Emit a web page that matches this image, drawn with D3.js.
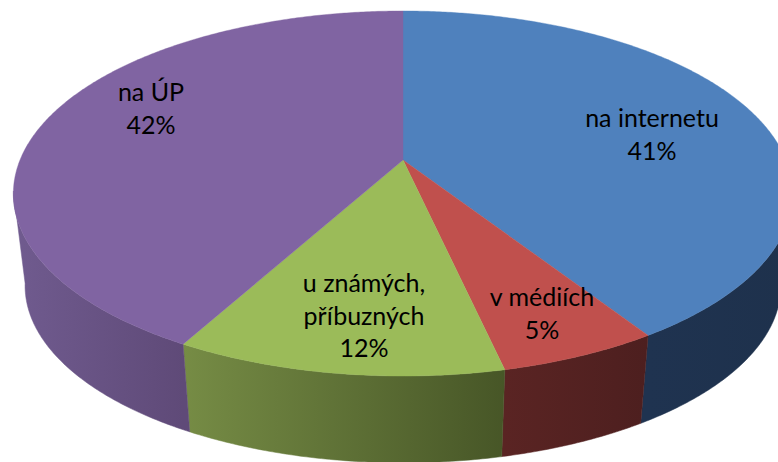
<!DOCTYPE html>
<html><head><meta charset="utf-8">
<script src="https://cdn.jsdelivr.net/npm/d3@7/dist/d3.min.js"></script>
<style>html,body{margin:0;padding:0;background:#fff}svg{display:block}text{font-family:Lato,"Open Sans",sans-serif;fill:#000}</style>
</head><body><svg id="c" width="778" height="462"></svg>
<script>
// data
const categories = ["na internetu", "v médiích", "u známých,\npříbuzných", "na ÚP"];
const percentLabels = ["41%", "5%", "12%", "42%"];
const shares = [40.9, 5.6, 11.5, 42];
// styles
const topColors = ["#4f81bd", "#c0504d", "#9bbb59", "#8064a2"];
const sideLeft  = ["#1f3350", "#5a2423", "#768c45", "#705b8f"];
const sideRight = ["#1e314c", "#4d1f1f", "#475627", "#5f4a78"];
const labelAnchors = [[652, 127], [542, 306], [364, 292], [151, 101]];
const labelLine = 32.5, fontSize = 25;

// layout: perspective projection of a flat disc
const cx = 403, apexY = 160, halfW = 383, halfD = 147, tilt = -0.1836;
const depthScale = 0.97, depthShift = 98, wallFromY = 190;
const project = a => {
  const u = Math.sin(a), v = -Math.cos(a), w = 1 + tilt * v;
  return [cx + halfW * u / w, (apexY + halfD * v) / w];
};
const lower = ([x, y]) => [cx + (x - cx) * depthScale, y * depthScale + depthShift];

const svg = d3.select("#c");
const defs = svg.append("defs");
const arcs = d3.pie().sort(null).value(d => d)(shares);
const line = d3.line();
const step = Math.PI / 360;
const samples = d => {
  const n = Math.max(2, Math.ceil((d.endAngle - d.startAngle) / step));
  return d3.range(n + 1).map(i => d.startAngle + (d.endAngle - d.startAngle) * i / n);
};

// side wall: only the part of each slice's rim that faces the viewer
arcs.forEach((d, i) => {
  const rim = samples(d).map(project).filter(p => p[1] >= wallFromY);
  if (rim.length < 2) return;
  const [x0, x1] = d3.extent(rim, p => p[0]);
  const g = defs.append("linearGradient").attr("id", "wall" + i)
    .attr("gradientUnits", "userSpaceOnUse")
    .attr("x1", x0).attr("x2", x1).attr("y1", 0).attr("y2", 0);
  g.append("stop").attr("offset", 0).attr("stop-color", sideLeft[i]);
  g.append("stop").attr("offset", 1).attr("stop-color", sideRight[i]);
  svg.append("path")
    .attr("d", line([...rim, ...rim.map(lower).reverse()]) + "Z")
    .attr("fill", `url(#wall${i})`)
    .attr("stroke", `url(#wall${i})`)
    .attr("stroke-width", 0.5);
});

// top face
svg.append("g").selectAll("path").data(arcs).join("path")
  .attr("d", d => line([[cx, apexY], ...samples(d).map(project)]) + "Z")
  .attr("fill", (d, i) => topColors[i])
  .attr("stroke", (d, i) => topColors[i])
  .attr("stroke-width", 0.4);

// labels
const labels = svg.append("g").selectAll("text").data(arcs).join("text")
  .attr("text-anchor", "middle")
  .attr("font-size", fontSize)
  .attr("transform", (d, i) => `translate(${labelAnchors[i]})`);
labels.each(function (d, i) {
  const t = d3.select(this);
  const rows = [...categories[i].split("\n"), percentLabels[i]];
  rows.forEach((r, k) => t.append("tspan").attr("x", 0).attr("y", k * labelLine).text(r));
});
</script></body></html>
